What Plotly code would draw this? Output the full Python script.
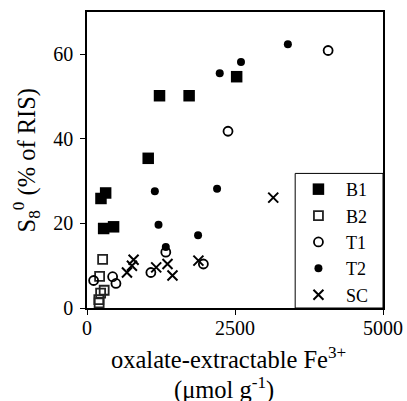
import plotly.graph_objects as go

b1_x = [1225, 1725, 2528, 1034, 236, 315, 281, 449]
b1_y = [50.2, 50.2, 54.7, 35.4, 25.9, 27.2, 18.8, 19.2]
b2_x = [264, 213, 290, 230, 200, 205]
b2_y = [11.5, 7.5, 4.2, 3.5, 2.0, 1.2]
t1_x = [4073, 2382, 1331, 1966, 1079, 433, 489, 112]
t1_y = [60.9, 41.8, 13.2, 10.4, 8.4, 7.4, 5.8, 6.5]
t2_x = [3393, 2601, 2242, 2197, 1146, 1208, 1876, 1331]
t2_y = [62.4, 58.2, 55.5, 28.2, 27.6, 19.7, 17.2, 14.4]
sc_x = [3146, 787, 759, 675, 1169, 1360, 1444, 1882]
sc_y = [26.1, 11.4, 10.0, 8.4, 9.6, 10.4, 7.7, 11.2]
x_ticks = [0, 2500, 5000]
y_ticks = [0, 20, 40, 60]

FONT = "Liberation Serif"
fig = go.Figure()
fig.add_trace(go.Scatter(x=b1_x, y=b1_y, mode="markers", name="B1",
                         marker=dict(symbol="square", size=11.5, color="black")))
fig.add_trace(go.Scatter(x=b2_x, y=b2_y, mode="markers", name="B2",
                         marker=dict(symbol="square-open", size=9, color="#222",
                                     line=dict(width=1.8, color="#222"))))
fig.add_trace(go.Scatter(x=t1_x, y=t1_y, mode="markers", name="T1",
                         marker=dict(symbol="circle-open", size=9, color="black",
                                     line=dict(width=1.8, color="black"))))
fig.add_trace(go.Scatter(x=t2_x, y=t2_y, mode="markers", name="T2",
                         marker=dict(symbol="circle", size=8, color="black")))
fig.add_trace(go.Scatter(x=sc_x, y=sc_y, mode="markers", name="SC",
                         marker=dict(symbol="x-thin-open", size=10, color="black",
                                     line=dict(width=2, color="black"))))

fig.update_xaxes(range=[0, 5000], tickvals=x_ticks, showline=True, linecolor="black",
                 linewidth=1.5, mirror=True, ticks="outside", ticklen=5, tickcolor="black",
                 showgrid=False, zeroline=False, ticklabelstandoff=-4, automargin=False,
                 tickfont=dict(family=FONT, size=20, color="black"))
fig.update_yaxes(range=[0, 70], tickvals=y_ticks, showline=True, linecolor="black",
                 linewidth=1.5, mirror=True, ticks="outside", ticklen=5, tickcolor="black",
                 showgrid=False, zeroline=False, ticklabelstandoff=3, automargin=False,
                 tickfont=dict(family=FONT, size=20, color="black"))

# axis titles
fig.add_annotation(xref="paper", yref="paper", x=0.4766, y=0, yshift=-50, yanchor="middle",
                   text="oxalate-extractable Fe<sup>3+</sup>", showarrow=False,
                   font=dict(family=FONT, size=24.5, color="black"))
fig.add_annotation(xref="paper", yref="paper", x=0.463, y=0, yshift=-80, yanchor="middle",
                   text="(μmol g<sup>-1</sup>)", showarrow=False,
                   font=dict(family=FONT, size=24.5, color="black"))
fig.add_annotation(xref="paper", yref="paper", x=-0.2047, y=0.5, xanchor="center",
                   yanchor="middle", textangle=-90,
                   text="S<sub>8</sub><sup>0</sup> (% of RIS)", showarrow=False,
                   font=dict(family=FONT, size=24.5, color="black"))

# legend frame
fig.add_shape(type="rect", xref="paper", yref="paper", x0=0.7033, x1=1, y0=0, y1=0.4547,
              line=dict(color="black", width=1), fillcolor="white", layer="above")

fig.update_layout(
    width=407, height=401,
    margin=dict(l=87, r=24, t=12, b=93, autoexpand=False),
    plot_bgcolor="white", paper_bgcolor="white",
    legend=dict(x=0.689, y=0.463, xanchor="left", yanchor="top",
                borderwidth=0, bgcolor="rgba(0,0,0,0)",
                font=dict(family=FONT, size=18, color="black"),
                itemwidth=45),
)
fig.write_html("out.html", config={"displayModeBar": False},
               post_script="document.body.style.margin='0px';")
